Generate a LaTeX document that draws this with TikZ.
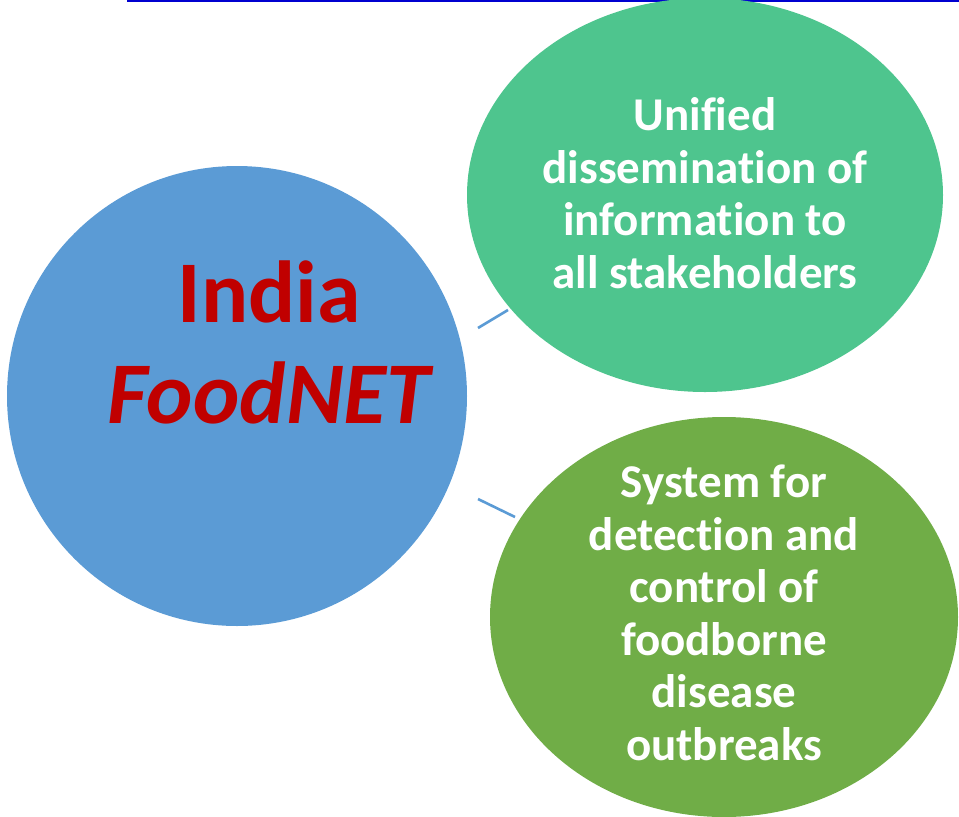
\documentclass[tikz,border=0pt]{standalone}
\usepackage{fontspec}
\setmainfont{Carlito}[Ligatures=NoCommon]
\usetikzlibrary{shapes.geometric}
\definecolor{hubblue}{HTML}{5B9BD5}
\definecolor{topgreen}{HTML}{4EC58E}
\definecolor{lowgreen}{HTML}{70AD47}
\definecolor{titlered}{HTML}{C00000}
\definecolor{rulerblue}{HTML}{0000D0}
\tikzset{
  bubble/.style={ellipse, inner sep=0pt},
  bubbletext/.style={text=white, font=\fontsize{47}{52.5}\selectfont\bfseries, align=center},
  link/.style={draw=hubblue, line width=2.6pt},
}
\begin{document}
\begin{tikzpicture}[x=1pt,y=-1pt]
\useasboundingbox (0,0) rectangle (959,817);
% header rule
\draw[rulerblue, line width=2pt] (127,0.5) -- (959,0.5);
% bubbles
\node[bubble, fill=hubblue, minimum width=460pt, minimum height=460pt] (hub) at (237,396) {};
\node[bubble, fill=topgreen, minimum width=476pt, minimum height=394pt] (top) at (705,195) {};
\node[bubble, fill=lowgreen, minimum width=468pt, minimum height=400pt] (low) at (724,617) {};
% hub title (base anchor sits on the last line)
\node[text=titlered, font=\fontsize{88}{101}\selectfont\bfseries, align=center, anchor=base] (title) at (269,423) {India\\\itshape FoodNET};
% bubble captions
\node[bubbletext] (toptext) at (705,193) {Unified\\dissemination of\\information to\\all stakeholders};
\node[bubbletext] (lowtext) at (724,613) {System for\\detection and\\control of\\foodborne\\disease\\outbreaks};
% connectors between hub and bubbles
\coordinate (l1a) at (478,328);
\coordinate (l1b) at (508,310);
\coordinate (l2a) at (478,499);
\coordinate (l2b) at (515,517);
\draw[link] (l1a) -- (l1b);
\draw[link] (l2a) -- (l2b);
\end{tikzpicture}
\end{document}
